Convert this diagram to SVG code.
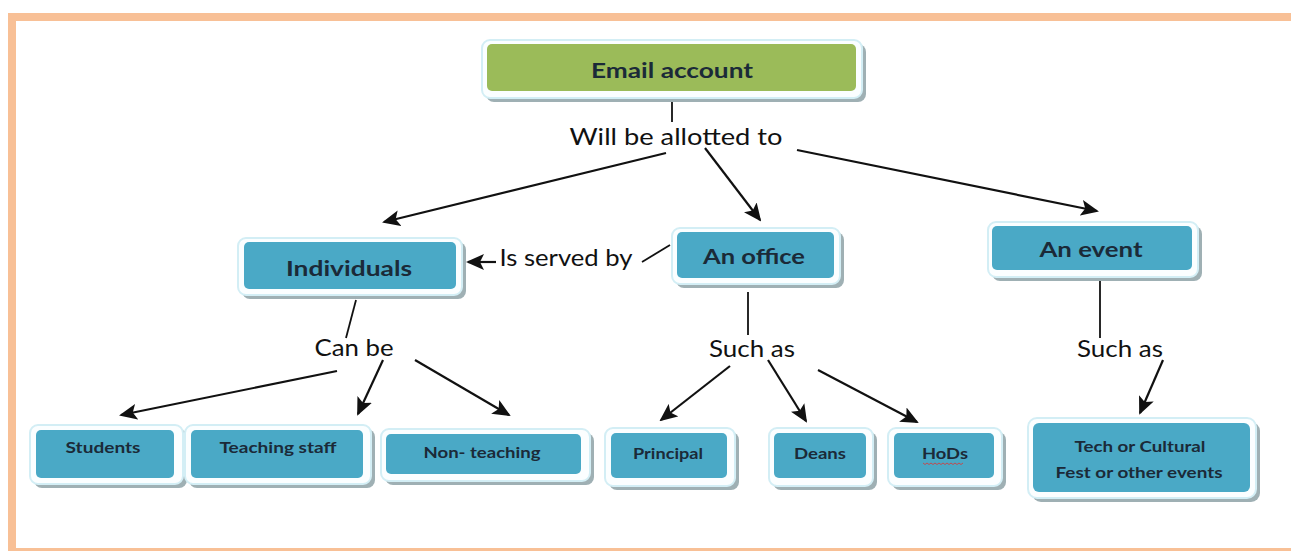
<svg xmlns="http://www.w3.org/2000/svg" width="1291" height="551" viewBox="0 0 1291 551">
<defs>
<marker id="ah" markerUnits="userSpaceOnUse" markerWidth="18" markerHeight="16" refX="16" refY="8" orient="auto">
<path d="M0,0 L18,8 L0,16 L4,8 Z" fill="#111"/>
</marker>
<style>
.sh{fill:#9fb0b4}
.rim{fill:#fbfeff;stroke:#d3eef5;stroke-width:2}
.blue{fill:#4aa9c6}
.green{fill:#9bbb59}
.lbl{font-family:Lato,"Open Sans",sans-serif;font-weight:bold;fill:#1b2a38;text-anchor:middle}
.big{font-size:21px}
.sm{font-size:15px}
.rel{font-family:Lato,"Open Sans",sans-serif;font-size:23px;fill:#111;text-anchor:middle}
.ln{stroke:#111;stroke-width:1.8;fill:none}
.ar{stroke:#111;stroke-width:2.2;fill:none;marker-end:url(#ah)}
</style>
</defs>
<rect width="1291" height="551" fill="#fff"/>
<g id="border" fill="#f8c096">
<rect x="8" y="13" width="1283" height="8"/>
<rect x="8" y="13" width="8" height="538"/>
<rect x="8" y="548" width="1283" height="3"/>
</g>

<g id="connectors">
<line class="ln" x1="672" y1="92" x2="672" y2="122"/>
<line class="ar" x1="666" y1="153" x2="384" y2="222"/>
<line class="ar" x1="705" y1="148" x2="760" y2="220"/>
<line class="ar" x1="797" y1="150" x2="1097" y2="211"/>
<line class="ar" x1="496" y1="262" x2="468" y2="262"/>
<line class="ln" x1="642" y1="262" x2="670" y2="245" stroke-width="1.2"/>
<line class="ln" x1="356" y1="300" x2="346" y2="338"/>
<line class="ar" x1="337" y1="371" x2="121" y2="415"/>
<line class="ar" x1="383" y1="360" x2="358" y2="414"/>
<line class="ar" x1="415" y1="360" x2="509" y2="415"/>
<line class="ln" x1="748" y1="292" x2="748" y2="335"/>
<line class="ar" x1="730" y1="366" x2="661" y2="420"/>
<line class="ar" x1="768" y1="360" x2="806" y2="421"/>
<line class="ar" x1="818" y1="370" x2="917" y2="422"/>
<line class="ln" x1="1100" y1="276" x2="1100" y2="338"/>
<line class="ar" x1="1163" y1="360" x2="1140" y2="413"/>
</g>

<g id="relations">
<text class="rel" x="676" y="145" textLength="213" lengthAdjust="spacingAndGlyphs">Will be allotted to</text>
<text class="rel" x="566" y="266" textLength="133" lengthAdjust="spacingAndGlyphs">Is served by</text>
<text class="rel" x="354" y="356" textLength="79" lengthAdjust="spacingAndGlyphs">Can be</text>
<text class="rel" x="752" y="357" textLength="86" lengthAdjust="spacingAndGlyphs">Such as</text>
<text class="rel" x="1120" y="357" textLength="86" lengthAdjust="spacingAndGlyphs">Such as</text>
</g>

<g id="email">
<rect class="sh" x="486" y="44" width="380" height="58" rx="8"/>
<rect class="rim" x="482" y="40" width="380" height="58" rx="8"/>
<rect class="green" x="487" y="44" width="369" height="47" rx="5"/>
<text class="lbl big" x="672" y="78" textLength="162" lengthAdjust="spacingAndGlyphs">Email account</text>
</g>

<g id="individuals">
<rect class="sh" x="242" y="242" width="224" height="57" rx="8"/>
<rect class="rim" x="238" y="238" width="224" height="57" rx="8"/>
<rect class="blue" x="244" y="242" width="212" height="47" rx="5"/>
<text class="lbl big" x="349" y="276" textLength="126" lengthAdjust="spacingAndGlyphs">Individuals</text>
</g>

<g id="office">
<rect class="sh" x="676" y="232" width="168" height="56" rx="8"/>
<rect class="rim" x="672" y="228" width="168" height="56" rx="8"/>
<rect class="blue" x="677" y="232" width="157" height="46" rx="5"/>
<text class="lbl big" x="754" y="264" textLength="102" lengthAdjust="spacingAndGlyphs">An office</text>
</g>

<g id="event">
<rect class="sh" x="992" y="226" width="210" height="55" rx="8"/>
<rect class="rim" x="988" y="222" width="210" height="55" rx="8"/>
<rect class="blue" x="992" y="226" width="200" height="44" rx="5"/>
<text class="lbl big" x="1091" y="257" textLength="103" lengthAdjust="spacingAndGlyphs">An event</text>
</g>

<g id="students">
<rect class="sh" x="34" y="429" width="153" height="59" rx="8"/>
<rect class="rim" x="30" y="425" width="153" height="59" rx="8"/>
<rect class="blue" x="36" y="430" width="138" height="48" rx="5"/>
<text class="lbl sm" x="103" y="453" textLength="75" lengthAdjust="spacingAndGlyphs">Students</text>
</g>

<g id="teaching">
<rect class="sh" x="189" y="429" width="186" height="59" rx="8"/>
<rect class="rim" x="185" y="425" width="186" height="59" rx="8"/>
<rect class="blue" x="191" y="430" width="172" height="48" rx="5"/>
<text class="lbl sm" x="278" y="453" textLength="117" lengthAdjust="spacingAndGlyphs">Teaching staff</text>
</g>

<g id="nonteaching">
<rect class="sh" x="385" y="433" width="209" height="52" rx="8"/>
<rect class="rim" x="381" y="429" width="209" height="52" rx="8"/>
<rect class="blue" x="386" y="434" width="195" height="40" rx="5"/>
<text class="lbl sm" x="482" y="458" textLength="117" lengthAdjust="spacingAndGlyphs">Non- teaching</text>
</g>

<g id="principal">
<rect class="sh" x="609" y="432" width="130" height="58" rx="8"/>
<rect class="rim" x="605" y="428" width="130" height="58" rx="8"/>
<rect class="blue" x="611" y="433" width="116" height="45" rx="5"/>
<text class="lbl sm" x="668" y="459" textLength="70" lengthAdjust="spacingAndGlyphs">Principal</text>
</g>

<g id="deans">
<rect class="sh" x="773" y="432" width="104" height="58" rx="8"/>
<rect class="rim" x="769" y="428" width="104" height="58" rx="8"/>
<rect class="blue" x="774" y="433" width="92" height="45" rx="5"/>
<text class="lbl sm" x="820" y="459" textLength="52" lengthAdjust="spacingAndGlyphs">Deans</text>
</g>

<g id="hods">
<rect class="sh" x="892" y="432" width="114" height="58" rx="8"/>
<rect class="rim" x="888" y="428" width="114" height="58" rx="8"/>
<rect class="blue" x="894" y="433" width="100" height="45" rx="5"/>
<text class="lbl sm" x="945" y="459" textLength="46" lengthAdjust="spacingAndGlyphs">HoDs</text>
<path d="M923,463 l2,1.5 l2,-1.5 l2,1.5 l2,-1.5 l2,1.5 l2,-1.5 l2,1.5 l2,-1.5 l2,1.5 l2,-1.5 l2,1.5 l2,-1.5 l2,1.5 l2,-1.5 l2,1.5 l2,-1.5 l2,1.5 l2,-1.5 l2,1.5 l2,-1.5" fill="none" stroke="#d33" stroke-width="0.8"/>
</g>

<g id="techfest">
<rect class="sh" x="1032" y="422" width="228" height="80" rx="9"/>
<rect class="rim" x="1028" y="418" width="228" height="80" rx="9"/>
<rect class="blue" x="1033" y="423" width="217" height="69" rx="6"/>
<text class="lbl sm" x="1140" y="452" textLength="131" lengthAdjust="spacingAndGlyphs">Tech or Cultural</text>
<text class="lbl sm" x="1139" y="478" textLength="167" lengthAdjust="spacingAndGlyphs">Fest or other events</text>
</g>
</svg>
